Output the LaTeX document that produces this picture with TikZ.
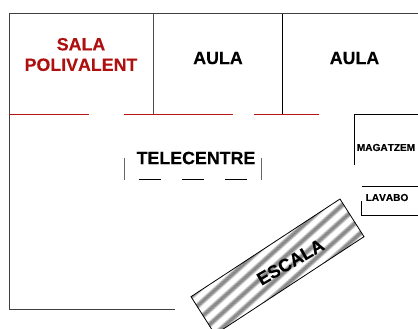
\documentclass[tikz,border=0pt]{standalone}
\usepackage{fontspec}
\newfontfamily\boldfam[Kerning=Off,FakeBold=0.25]{Liberation Sans Bold}
\definecolor{redline}{HTML}{B81414}
\definecolor{redtext}{HTML}{AE0F0F}
\tikzset{
  wall/.style={draw=black!75,line width=0.9bp},
  thinwall/.style={draw=black,line width=0.8bp},
  redwall/.style={draw=redline,line width=0.9bp},
  bigtext/.style={font=\boldfam\fontsize{17.8bp}{20.5bp}\selectfont,align=center,inner sep=0pt},
  smalltext/.style={font=\boldfam\fontsize{10.1bp}{12bp}\selectfont,inner sep=0pt}
}
\begin{document}
\begin{tikzpicture}[x=1bp,y=-1bp]
\useasboundingbox (0,0) rectangle (418,329);
\clip (0,0) rectangle (418,329);
% walls
\coordinate (tl) at (9,13.5);
\coordinate (tr) at (418,13.5);
\coordinate (bl) at (9,309);
\coordinate (be) at (175,309);
\draw[wall] (tr) -- (tl) -- (bl) -- (be);
\coordinate (a1) at (153,13.5);
\coordinate (a2) at (153,114);
\coordinate (b1) at (282.5,13.5);
\coordinate (b2) at (282.5,114);
\draw[draw=black!70,line width=0.9bp] (a1) -- (a2);
\draw[thinwall] (b1) -- (b2);
% red wall
\coordinate (r1) at (9,114);
\coordinate (r2) at (88.5,114);
\coordinate (r3) at (124,114);
\coordinate (r4) at (232.5,114);
\coordinate (r5) at (253.5,114);
\coordinate (r6) at (319,114);
\draw[redwall] (r1) -- (r2) (r3) -- (r4) (r5) -- (r6);
% store rooms
\coordinate (m1) at (418,114);
\coordinate (m2) at (354.5,114);
\coordinate (m3) at (354.5,165);
\draw[thinwall] (m1) -- (m2) -- (m3);
\coordinate (l1) at (362,186.5);
\coordinate (l2) at (418,186.5);
\coordinate (l3) at (361.7,201);
\coordinate (l4) at (361.7,215);
\coordinate (l5) at (418,215);
\draw[thinwall] (l1) -- (l2) (l3) -- (l4) -- (l5);
% telecentre marks
\coordinate (t1) at (124.5,158);
\coordinate (t2) at (124.5,180);
\coordinate (t3) at (261.5,158);
\coordinate (t4) at (261.5,180);
\draw[draw=black!60,line width=0.8bp] (t1) -- (t2) (t3) -- (t4);
\coordinate (d1) at (138.5,179.5);
\coordinate (d2) at (160.5,179.5);
\coordinate (d3) at (182,179.5);
\coordinate (d4) at (204,179.5);
\coordinate (d5) at (225,179.5);
\coordinate (d6) at (247,179.5);
\draw[thinwall] (d1) -- (d2) (d3) -- (d4) (d5) -- (d6);
% stairs
\coordinate (s1) at (340,199);
\coordinate (s2) at (364,236.7);
\coordinate (s3) at (215,334.4);
\coordinate (s4) at (191,296.7);
\begin{scope}
  \clip (s1) -- (s2) -- (s3) -- (s4) -- cycle;
  \begin{scope}[shift={(277.5,266.7)},rotate=42]
    \foreach \i in {-120,...,120}{
      \pgfmathsetmacro{\yy}{\i*0.5}
      \pgfmathsetmacro{\dk}{max(0,min(50,14+40*cos(32.7*(\yy+35.6))))}
      \fill[black!\dk] (-120,\yy) rectangle (120,\yy+0.6);
    }
  \end{scope}
\end{scope}
\draw[draw=black,line width=0.8bp] (s1) -- (s2) -- (s3) -- (s4) -- cycle;
% labels
\node[bigtext,text=redtext] (sala) at (81,54.5) {SALA\\POLIVALENT};
\node[bigtext] (aula1) at (218,58) {AULA};
\node[bigtext] (aula2) at (354.5,58) {AULA};
\node[bigtext] (tele) at (196,158) {TELECENTRE};
\node[smalltext] (mag) at (386,147.5) {MAGATZEM};
\node[smalltext] (lav) at (387,197.5) {LAVABO};
\node[bigtext,font=\boldfam\fontsize{18bp}{20bp}\selectfont,rotate=30] (esc) at (290.5,262) {ESCALA};
\end{tikzpicture}
\end{document}
